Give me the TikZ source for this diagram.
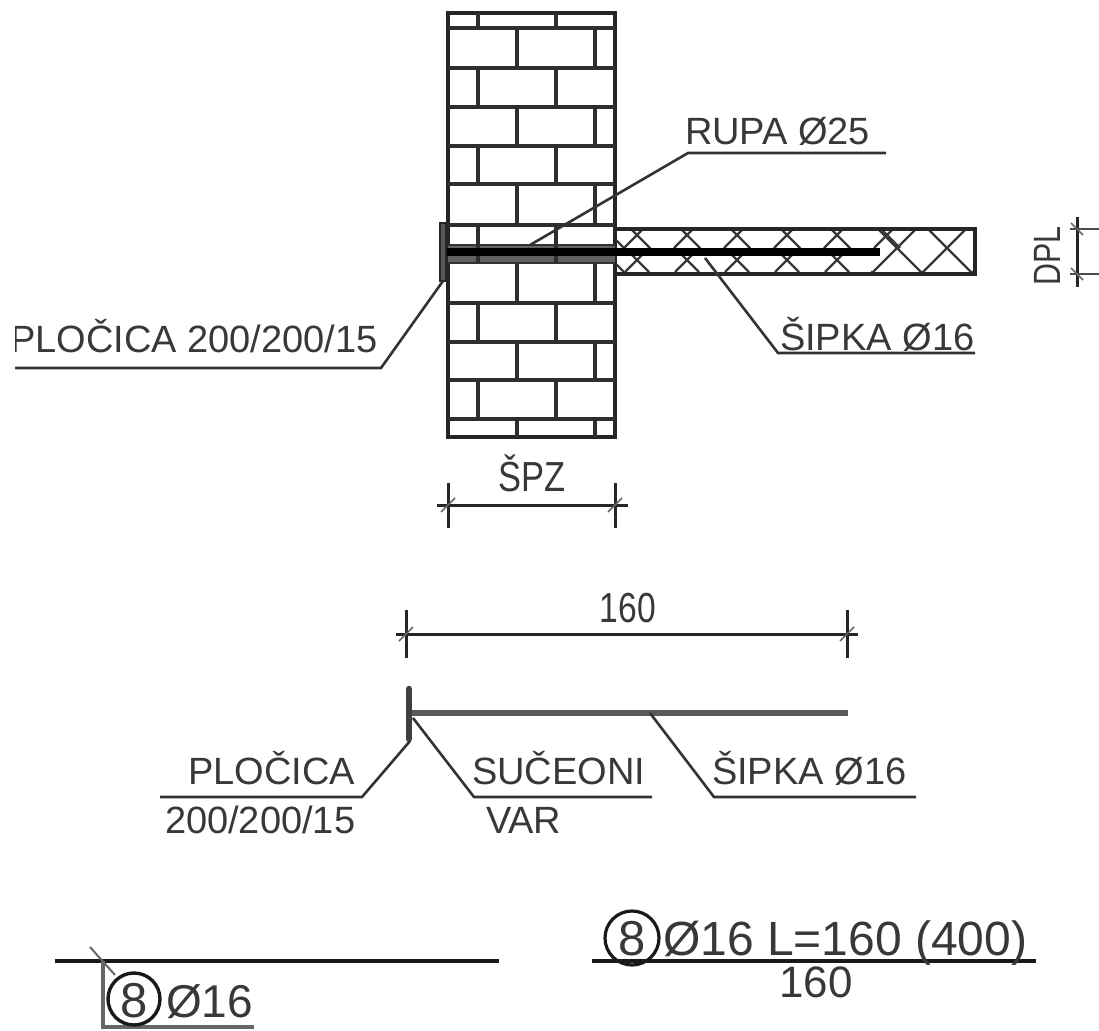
\documentclass[tikz,border=0pt]{standalone}
\usepackage{fontspec}
\setmainfont{Liberation Sans}
\newcommand{\fsz}[1]{\fontsize{#1}{#1}\selectfont}
\tikzset{
  lab/.style={inner sep=0pt,outer sep=0pt,anchor=base west,text=black!78,font=\fsz{38}},
  leader/.style={line width=2.6pt,draw=black!80},
  brick/.style={line width=3.4pt,draw=black!82},
  wall/.style={line width=3.8pt,draw=black!85},
  dim/.style={line width=3pt,draw=black!85},
  tick/.style={line width=1.6pt,draw=black!60},
  hatchl/.style={line width=2.2pt,draw=black!78},
}
\begin{document}
\begin{tikzpicture}[x=1pt,y=-1pt]
\useasboundingbox (0,0) rectangle (1099,1030);
% ---- wall
\draw[wall] (448,13) rectangle (615,437);
\foreach \yy in {28,68,107,146,184,225,303,342,380,419}
  \draw[brick] (448,\yy) -- (615,\yy);
\foreach \ya/\yb in {13/28,68/107,146/184,225/264,303/342,380/419}{
  \draw[brick] (478,\ya) -- (478,\yb);
  \draw[brick] (556,\ya) -- (556,\yb);}
\foreach \ya/\yb in {28/68,107/146,184/225,264/303,342/380,419/437}{
  \draw[brick] (517,\ya) -- (517,\yb);
  \draw[brick] (595,\ya) -- (595,\yb);}
% ---- hatched slab: regular lattice at the free end
\begin{scope}
\clip (871,229) rectangle (975,274);
\foreach \k in {-6,...,2}{
  \draw[hatchl] ({1145+50*\k-100},100) -- ({1145+50*\k-400},400);}
\foreach \k in {-7,...,2}{
  \draw[hatchl] ({649+50*\k+100},100) -- ({649+50*\k+400},400);}
\end{scope}
% ---- hatched slab: crosses above and below the bar
\begin{scope}
\clip (615,229) rectangle (975,274);
\foreach \xx in {637,687,...,887}{
  \draw[hatchl] (\xx-6,229) -- (\xx+13,248);
  \draw[hatchl] (\xx+6,229) -- (\xx-13,248);}
\foreach \xx in {637,687,...,837}{
  \draw[hatchl] (\xx-13,247) -- (\xx+12,272);
  \draw[hatchl] (\xx+13,247) -- (\xx-12,272);}
\draw[hatchl] (616,240) -- (624,248);
\draw[hatchl] (616,264) -- (624,272);
\end{scope}
\draw[wall] (615,229) -- (975,229) -- (975,274) -- (615,274);
% ---- hole and bar
\fill[black!62] (448,245) rectangle (615,263);
\draw[line width=2pt,draw=black!80] (448,245) -- (615,245);
\draw[line width=2pt,draw=black!80] (448,263) -- (615,263);
\draw[brick] (478,240) -- (478,263) (556,240) -- (556,263);
\draw[line width=8pt,black] (443,252) -- (880,252);
% plate
\fill[black!65] (440,223) rectangle (446,281);
\draw[line width=1.6pt,black!85] (440,223) rectangle (446,281);
% ---- leaders top
\draw[leader] (530,245) -- (688,153) -- (886,153);
\node[lab] (rupa) at (685,144) {RUPA Ø25};
\draw[leader] (443,281) -- (381,368) -- (15,368);
\begin{scope}
\clip (15,300) rectangle (400,380);
\node[lab,font=\fsz{38}] (plocicaA) at (10,352) {PLOČICA 200/200/15};
\end{scope}
\draw[leader] (705,258) -- (778,353) -- (975,353);
\node[lab] (sipkaA) at (780,350) {ŠIPKA Ø16};
% ---- DPL
\node[lab,font=\fsz{38},rotate=90,xscale=.8,anchor=base] (dpl) at (1060,256) {DPL};
\draw[dim] (1077,217) -- (1077,287);
\draw[line width=2pt,black!70] (1070,229) -- (1099,229) (1070,274) -- (1099,274);
\draw[tick] (1071,223) -- (1083,235) (1071,268) -- (1083,280);
% ---- SPZ
\node[lab,font=\fsz{42},xscale=.82,anchor=base] (spz) at (532,491) {ŠPZ};
\draw[dim] (437,505) -- (628,505);
\draw[dim] (448,483) -- (448,528);
\draw[dim] (615,483) -- (615,528);
\draw[tick] (441,512) -- (455,498) (608,512) -- (622,498);
% ---- 160
\node[lab,font=\fsz{42},xscale=.8,anchor=base] (dimc) at (628,622) {160};
\draw[dim] (396,634) -- (858,634);
\draw[dim] (406,610) -- (406,658);
\draw[dim] (847,610) -- (847,658);
\draw[tick] (399,641) -- (413,627) (840,641) -- (854,627);
% ---- bar elevation
\draw[line width=6pt,black!65] (412,713) -- (848,713);
\draw[line width=6.5pt,black!75,line cap=round] (409,689) -- (409,739);
\draw[leader] (410,741) -- (362,797) -- (160,797);
\draw[leader] (413,718) -- (474,797) -- (652,797);
\draw[leader] (650,713) -- (714,797) -- (916,797);
\node[lab] (plocicaB) at (188,784) {PLOČICA};
\node[lab] (plocicaC) at (165,833) {200/200/15};
\node[lab] (suceoni) at (472,784) {SUČEONI};
\node[lab] (var) at (486,833) {VAR};
\node[lab] (sipkaB) at (712,784) {ŠIPKA Ø16};
% ---- bottom left
\draw[line width=3.6pt,black!90] (55,961) -- (499,961);
\draw[line width=2pt,black!60] (90,947) -- (115,975);
\draw[line width=3.4pt,black!60] (103,961) -- (103,1027) -- (254,1027);
\draw[line width=3.4pt,black!90] (134,999) circle (26);
\node[lab,font=\fsz{49},anchor=base] (eightA) at (134,1017) {8};
\node[lab,font=\fsz{46}] (barA) at (166,1017) {Ø16};
% ---- bottom right
\draw[line width=3.6pt,black!90] (592,961) -- (1036,961);
\draw[line width=3.2pt,black!90] (632,938) circle (27);
\node[lab,font=\fsz{49},anchor=base] (eightB) at (632,955) {8};
\node[lab,font=\fsz{48}] (barB) at (663,955) {Ø16 L=160 (400)};
\node[lab,font=\fsz{44},anchor=base] (lenB) at (816,997) {160};
\end{tikzpicture}
\end{document}
